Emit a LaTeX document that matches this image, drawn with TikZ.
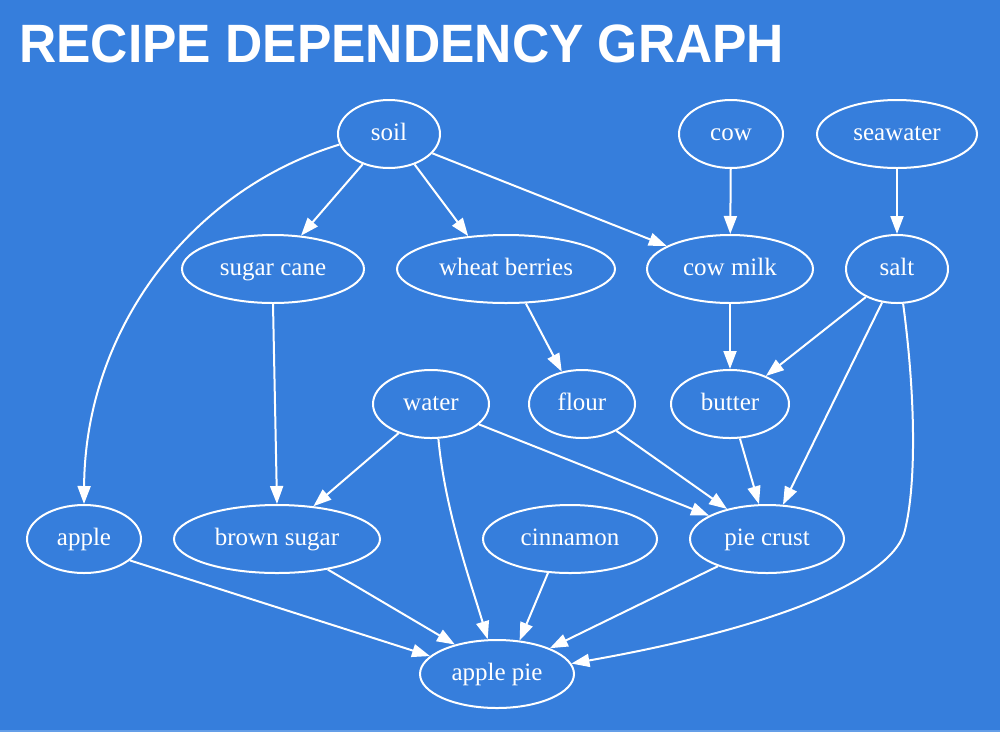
\documentclass[tikz,border=0pt]{standalone}
\usepackage{fontspec}
\newfontfamily\nodefont{Liberation Serif}
\newfontfamily\titlefont{Liberation Sans}
\usetikzlibrary{shapes.geometric,arrows.meta}
\definecolor{bg}{RGB}{54,126,220}
\definecolor{bgstrip}{RGB}{100,158,232}
\begin{document}
\begin{tikzpicture}[x=1pt,y=-1pt,
  nd/.style={ellipse,draw=white,line width=2pt,text=white,inner sep=0pt,
    minimum height=68pt,text height=18pt,text depth=4.6pt,
    font=\nodefont\fontsize{25}{30}\selectfont},
  edge/.style={draw=white,line width=2pt,-{Triangle[length=18pt,width=13pt]}}]
\fill[bg] (0,0) rectangle (1000,732);
\fill[bgstrip] (0,730) rectangle (1000,732);
\useasboundingbox (0,0) rectangle (1000,732);
\node[anchor=base west, inner sep=0pt, text=white] (title) at (19,62)
  {\scalebox{0.955}[1]{\titlefont\bfseries\fontsize{54}{60}\selectfont RECIPE DEPENDENCY GRAPH}};

\node[nd,minimum width=102pt] (soil) at (389,134) {soil};
\node[nd,minimum width=104pt] (cow) at (731,134) {cow};
\node[nd,minimum width=160pt] (seawater) at (897,134) {seawater};
\node[nd,minimum width=182pt] (sugarcane) at (273,269) {sugar cane};
\node[nd,minimum width=218pt] (wheat) at (506,269) {wheat berries};
\node[nd,minimum width=166pt] (cowmilk) at (730,269) {cow milk};
\node[nd,minimum width=102pt] (salt) at (897,269) {salt};
\node[nd,minimum width=116pt] (water) at (431,404) {water};
\node[nd,minimum width=106pt] (flour) at (582,404) {flour};
\node[nd,minimum width=118pt] (butter) at (730,404) {butter};
\node[nd,minimum width=114pt] (apple) at (84,539) {apple};
\node[nd,minimum width=206pt] (brownsugar) at (277,539) {brown sugar};
\node[nd,minimum width=174pt] (cinnamon) at (570,539) {cinnamon};
\node[nd,minimum width=154pt] (piecrust) at (767,539) {pie crust};
\node[nd,minimum width=154pt] (applepie) at (497,674) {apple pie};

\draw[edge] (soil.192) .. controls (190,190) and (85,330) .. (apple.north);
\draw[edge] (soil.229) -- (sugarcane.50);
\draw[edge] (soil.310) -- (wheat.139);
\draw[edge] (soil.336) -- (cowmilk.160);
\draw[edge] (cow) -- (cowmilk);
\draw[edge] (seawater) -- (salt);
\draw[edge] (sugarcane.south) -- (brownsugar.north);
\draw[edge] (wheat.300) -- (flour.122);
\draw[edge] (cowmilk) -- (butter);
\draw[edge] (salt.222) -- (butter.38);
\draw[edge] (salt.246) -- (piecrust.65);
\draw[edge] (salt.280) .. controls (916,400) and (916,485) .. (905,530)
   .. controls (895,575) and (790,625) .. (applepie.8);
\draw[edge] (water.222) -- (brownsugar.42);
\draw[edge] (water.282) .. controls (445,510) and (470,580) .. (applepie.105);
\draw[edge] (water.337) -- (piecrust.158);
\draw[edge] (flour.322) -- (piecrust.143);
\draw[edge] (butter.286) -- (piecrust.103);
\draw[edge] (apple.335) -- (applepie.165);
\draw[edge] (brownsugar.329) -- (applepie.145);
\draw[edge] (cinnamon.237) -- (applepie.56);
\draw[edge] (piecrust.209) -- (applepie.26);
\end{tikzpicture}
\end{document}
